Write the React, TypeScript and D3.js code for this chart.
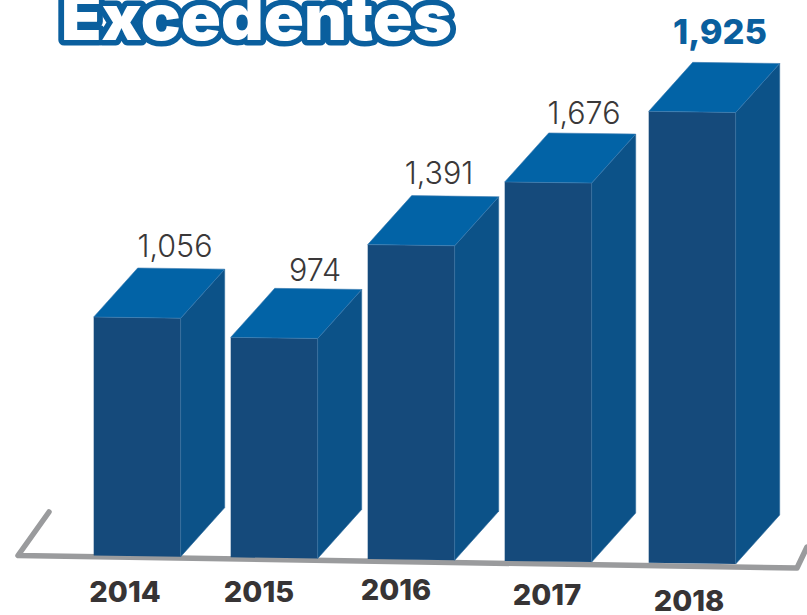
import React from "react";
import * as d3 from "d3";

const years = [2014, 2015, 2016, 2017, 2018];
const values = [1056, 974, 1391, 1676, 1925];
const valueLabels = ["1,056", "974", "1,391", "1,676", "1,925"];
const titleText = "Excedentes";

const W = 807, H = 615;
const FONT = "Inter, Lato, sans-serif";
const barW = 87, depthX = 44, depthY = 49;

// The source picture is a hand-made infographic, not perfectly proportional
const xScale = d3.scaleLinear().domain([2014, 2017, 2018]).range([93.7, 504.7, 648.7]);
const baseY = d3.scaleLinear().domain([94, 736]).range([555.5, 564]);
const heightScale = d3.scaleLinear().domain([0, 1056, 1391, 1676, 1925]).range([0, 238.5, 314.5, 379, 451.5]);

const valueLabelPos = [[175, 257], [315, 281], [439, 184], [584, 124], [720, 44]];
const yearLabelPos = [[125, 602], [259, 602], [396, 600], [547, 605], [689, 611]];

const axisPath = d3.line()([[49, 512], [18, 555.5], [797, 568], [807, 547]]) as string;

export default function App() {
  return (
    <svg width={W} height={H} viewBox={`0 0 ${W} ${H}`}
      style={{ position: "absolute", left: 0, top: 0, background: "#fff" }}>
      <path d={axisPath} fill="none" stroke="#9a9b9d" strokeWidth={5.5} strokeLinejoin="round" strokeLinecap="round" />
      {years.map((yr, i) => {
        const x0 = xScale(yr), x1 = x0 + barW;
        const b0 = baseY(x0), b1 = baseY(x1);
        const h = heightScale(values[i]);
        const t0 = b0 - h, t1 = b1 - h;
        const line = d3.line();
        const front = line([[x0, b0], [x1, b1], [x1, t1], [x0, t0]]) + "Z";
        const side = line([[x1, b1], [x1 + depthX, b1 - depthY], [x1 + depthX, t1 - depthY], [x1, t1]]) + "Z";
        const top = line([[x0, t0], [x1, t1], [x1 + depthX, t1 - depthY], [x0 + depthX, t0 - depthY]]) + "Z";
        return (
          <g key={yr}>
            <path d={front} fill="#154a7b" />
            <path d={side} fill="#0c5288" stroke="#2f6c9e" strokeWidth={0.6} />
            <path d={top} fill="#0263a6" stroke="#3b7bb0" strokeWidth={0.6} />
          </g>
        );
      })}
      {valueLabels.map((t, i) => (
        <text key={t} x={valueLabelPos[i][0]} y={valueLabelPos[i][1]} textAnchor="middle"
          fontFamily={FONT} fontSize={i === 4 ? 34.5 : 30.5} fontWeight={i === 4 ? 800 : 300}
          fill={i === 4 ? "#0a5f9e" : "#3a3839"}>{t}</text>
      ))}
      {years.map((yr, i) => (
        <text key={yr} x={yearLabelPos[i][0]} y={yearLabelPos[i][1]} textAnchor="middle"
          fontFamily={FONT} fontSize={29} fontWeight={800} fill="#373435">{yr}</text>
      ))}
      <text x={61} y={40} fontFamily={FONT} fontSize={63} fontWeight={900}
        fill="#fff" stroke="#0a5f9e" strokeWidth={11} strokeLinejoin="round" paintOrder="stroke"
        textLength={391} lengthAdjust="spacingAndGlyphs">{titleText}</text>
    </svg>
  );
}
